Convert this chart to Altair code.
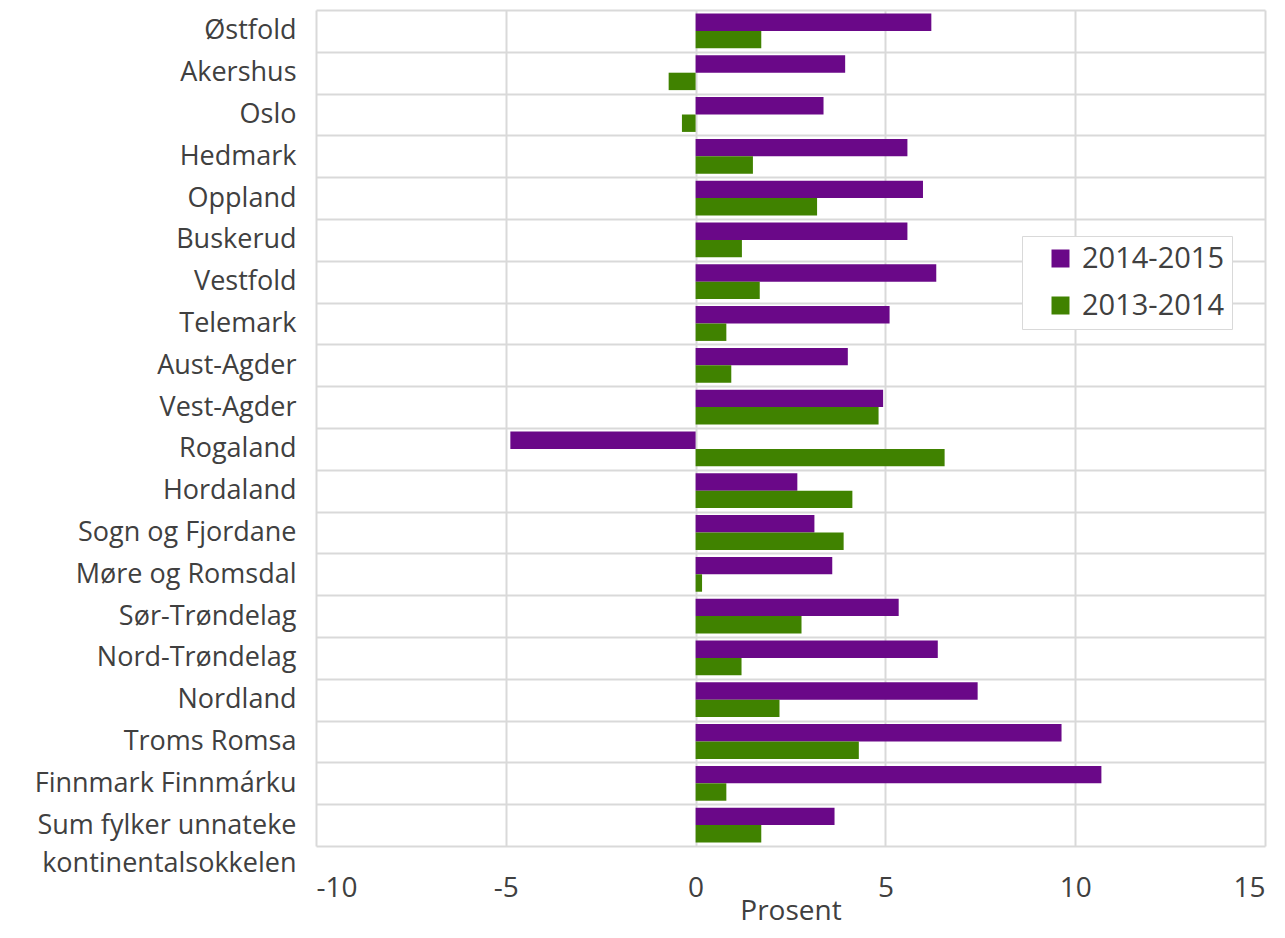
import altair as alt
import pandas as pd

regions = ["Østfold", "Akershus", "Oslo", "Hedmark", "Oppland", "Buskerud", "Vestfold",
           "Telemark", "Aust-Agder", "Vest-Agder", "Rogaland", "Hordaland", "Sogn og Fjordane",
           "Møre og Romsdal", "Sør-Trøndelag", "Nord-Trøndelag", "Nordland", "Troms Romsa",
           "Finnmark Finnmárku", "Sum fylker unnateke kontinentalsokkelen"]
v_2014_2015 = [6.21, 3.94, 3.37, 5.58, 5.99, 5.58, 6.34, 5.11, 4.01, 4.94, -4.88, 2.68, 3.13,
               3.60, 5.35, 6.38, 7.43, 9.64, 10.69, 3.66]
v_2013_2014 = [1.73, -0.71, -0.36, 1.51, 3.20, 1.22, 1.69, 0.81, 0.94, 4.82, 6.56, 4.13, 3.90,
               0.17, 2.79, 1.21, 2.21, 4.30, 0.81, 1.73]
series = ["2014-2015", "2013-2014"]
colors = ["#6a0888", "#408200"]
x_ticks = [-10, -5, 0, 5, 10, 15]

rows = []
for r, a, b in zip(regions, v_2014_2015, v_2013_2014):
    rows.append({"region": r, "series": series[0], "value": a})
    rows.append({"region": r, "series": series[1], "value": b})
df = pd.DataFrame(rows)

last = regions[-1]
FONT = "Open Sans"
TXT = "#404040"

chart = alt.Chart(df).mark_bar().encode(
    y=alt.Y("region:N", sort=regions,
            scale=alt.Scale(paddingInner=0, paddingOuter=0),
            axis=alt.Axis(title=None, domain=False, ticks=False, grid=True,
                          tickBand="extent", gridColor="#d9d9d9", gridWidth=2,
                          labelPadding=20, labelFontSize=27, labelFont=FONT,
                          labelColor=TXT, labelLimit=400, labelLineHeight=38,
                          labelExpr=f"datum.value == '{last}' ? ['Sum fylker unnateke', 'kontinentalsokkelen'] : datum.label")),
    x=alt.X("value:Q", scale=alt.Scale(domain=[-10, 15], nice=False),
            axis=alt.Axis(title="Prosent", values=x_ticks, domain=False,
                          ticks=False, grid=True, gridColor="#d9d9d9", gridWidth=2,
                          labelPadding=28, labelFontSize=28, labelFont=FONT, labelColor=TXT,
                          labelExpr="replace(datum.label, '−', '-')",
                          titleFont=FONT, titleFontSize=28, titleFontWeight="normal",
                          titleColor=TXT, titlePadding=-5)),
    yOffset=alt.YOffset("series:N", sort=series,
                        scale=alt.Scale(paddingOuter=0.2, paddingInner=0)),
    color=alt.Color("series:N", sort=series,
                    scale=alt.Scale(domain=series, range=colors),
                    legend=alt.Legend(title=None, orient="none", legendX=706, legendY=226,
                                      symbolType="square", symbolSize=324,
                                      symbolStrokeWidth=0, symbolOffset=16,
                                      labelFontSize=29, labelFont=FONT, labelColor=TXT,
                                      labelOffset=7, labelExpr="datum.label + '  '",
                                      rowPadding=17, padding=8, strokeColor="#d9d9d9",
                                      fillColor="white")),
).properties(
    width=949, height=836,
    autosize=alt.AutoSizeParams(type="none"),
    padding={"left": 308, "top": 2, "right": 10, "bottom": 84},
).configure_view(strokeWidth=0)

chart.save("out.html", embed_options={"renderer": "svg", "actions": False})
